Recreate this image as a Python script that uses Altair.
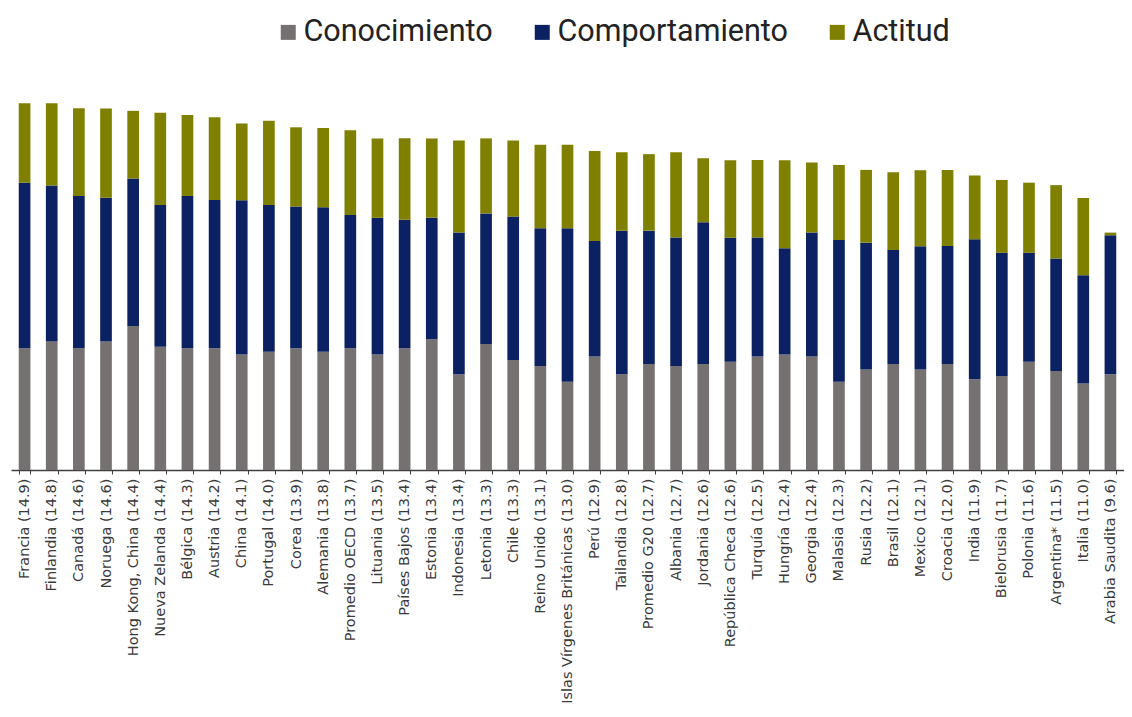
import altair as alt
import pandas as pd

categories = [
    "Francia (14.9)", "Finlandia (14.8)", "Canadá (14.6)", "Noruega (14.6)",
    "Hong Kong, China (14.4)", "Nueva Zelanda (14.4)", "Bélgica (14.3)", "Austria (14.2)",
    "China (14.1)", "Portugal (14.0)", "Corea (13.9)", "Alemania (13.8)",
    "Promedio OECD (13.7)", "Lituania (13.5)", "Países Bajos (13.4)", "Estonia (13.4)",
    "Indonesia (13.4)", "Letonia (13.3)", "Chile (13.3)", "Reino Unido (13.1)",
    "Islas Vírgenes Británicas (13.0)", "Perú (12.9)", "Tailandia (12.8)", "Promedio G20 (12.7)",
    "Albania (12.7)", "Jordania (12.6)", "República Checa (12.6)", "Turquía (12.5)",
    "Hungría (12.4)", "Georgia (12.4)", "Malasia (12.3)", "Rusia (12.2)",
    "Brasil (12.1)", "Mexico (12.1)", "Croacia (12.0)", "India (11.9)",
    "Bielorusia (11.7)", "Polonia (11.6)", "Argentina* (11.5)", "Italia (11.0)",
    "Arabia Saudita (9.6)",
]

conocimiento = [
    4.95, 5.22, 4.95, 5.22, 5.85, 5.01, 4.95, 4.95, 4.70, 4.81, 4.95, 4.81,
    4.95, 4.70, 4.95, 5.31, 3.89, 5.12, 4.47, 4.23, 3.59, 4.61, 3.89, 4.31,
    4.23, 4.31, 4.40, 4.61, 4.70, 4.61, 3.59, 4.09, 4.31, 4.09, 4.31, 3.69,
    3.82, 4.40, 4.02, 3.52, 3.89,
]

comportamiento = [
    6.73, 6.34, 6.19, 5.85, 6.00, 5.76, 6.19, 6.03, 6.27, 5.96, 5.76, 5.87,
    5.42, 5.55, 5.22, 4.94, 5.76, 5.31, 5.83, 5.60, 6.24, 4.70, 5.84, 5.42,
    5.22, 5.76, 5.04, 4.84, 4.31, 5.04, 5.76, 5.15, 4.63, 5.01, 4.80, 5.69,
    5.01, 4.43, 4.58, 4.40, 5.65,
]

actitud = [
    3.23, 3.35, 3.57, 3.63, 2.75, 3.75, 3.29, 3.36, 3.12, 3.43, 3.22, 3.22,
    3.44, 3.23, 3.32, 3.23, 3.74, 3.05, 3.09, 3.39, 3.39, 3.66, 3.19, 3.11,
    3.47, 2.60, 3.15, 3.15, 3.58, 2.85, 3.05, 2.96, 3.16, 3.09, 3.09, 2.59,
    2.96, 2.85, 2.98, 3.14, 0.11,
]

series_names = ["Conocimiento", "Comportamiento", "Actitud"]
series_colors = ["#767171", "#0b2161", "#7f7f00"]

rows = []
for s_idx, (name, vals) in enumerate(zip(series_names, [conocimiento, comportamiento, actitud])):
    for cat, v in zip(categories, vals):
        rows.append({"pais": cat, "serie": name, "valor": v, "orden": s_idx})
df = pd.DataFrame(rows)

chart = alt.Chart(df).mark_bar().encode(
    x=alt.X(
        "pais:N",
        sort=categories,
        scale=alt.Scale(paddingInner=0.57, paddingOuter=0.285),
        axis=alt.Axis(
            title=None,
            labelAngle=270,
            labelAlign="right",
            labelBaseline="middle",
            labelFont="DejaVu Sans",
            labelFontSize=14.5,
            labelColor="#3a3a3a",
            labelPadding=4,
            labelLimit=400,
            labelOverlap=False,
            domainColor="#404040",
            domainWidth=1.5,
            tickColor="#404040",
            tickSize=4,
            tickWidth=1,
            tickBand="extent",
            grid=False,
        ),
    ),
    y=alt.Y("valor:Q", stack="zero", scale=alt.Scale(domain=[0, 15], nice=False, zero=True), axis=None),
    color=alt.Color(
        "serie:N",
        scale=alt.Scale(domain=series_names, range=series_colors),
        legend=alt.Legend(
            title=None,
            orient="none",
            direction="horizontal",
            legendX=262,
            legendY=-84,
            symbolType="square",
            symbolSize=225,
            symbolStrokeWidth=0,
            labelFont="Roboto",
            labelFontSize=30.5,
            labelColor="#222222",
            labelOffset=0,
            columnPadding=34,
            padding=0,
            labelLimit=400,
        ),
    ),
    order=alt.Order("orden:Q", sort="ascending"),
).properties(
    width=1113,
    height=369,
    padding={"left": 3, "top": 93, "right": 0, "bottom": 236},
    autosize=alt.AutoSizeParams(type="none"),
    background="white",
).configure_view(stroke=None, strokeWidth=0)

chart.save("out.html", embed_options={"renderer": "svg", "actions": False})
